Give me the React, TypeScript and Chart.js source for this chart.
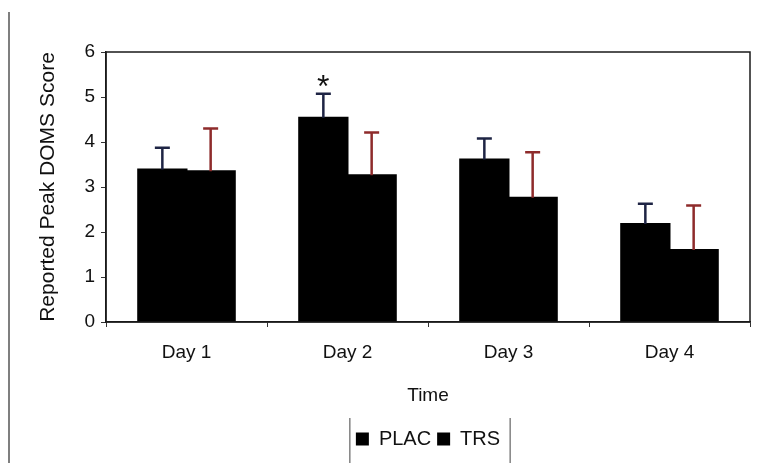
import React, { useEffect, useRef } from "react";
import { Chart, registerables } from "chart.js";

Chart.register(...registerables);

const categories = ["Day 1", "Day 2", "Day 3", "Day 4"];
const placMeans = [3.39, 4.54, 3.61, 2.18];
const placErrors = [0.48, 0.53, 0.47, 0.45];
const trsMeans = [3.35, 3.26, 2.76, 1.6];
const trsErrors = [0.95, 0.95, 1.01, 0.99];
const placMarks = ["", "*", "", ""];
const yTicks = [0, 1, 2, 3, 4, 5, 6];

const FONT = "'Liberation Sans', Arial, sans-serif";

const errorPlugin = {
  id: "errorBarsEtc",
  afterLayout(chart: any) {
    const lg = chart.legend;
    const a = chart.chartArea;
    if (lg && a) {
      const dx = (a.left + a.right) / 2 - (lg.left + lg.right) / 2;
      lg.left += dx;
      lg.right += dx;
    }
  },
  afterDatasetsDraw(chart: any) {
    const ctx = chart.ctx;
    const yScale = chart.scales.y;
    const errs = [placErrors, trsErrors];
    const colors = ["#1e2444", "#8e2b2b"];
    chart.data.datasets.forEach((ds: any, di: number) => {
      const meta = chart.getDatasetMeta(di);
      meta.data.forEach((bar: any, i: number) => {
        const v = ds.data[i];
        const top = yScale.getPixelForValue(v + errs[di][i]);
        ctx.save();
        ctx.strokeStyle = colors[di];
        ctx.lineWidth = 2.5;
        ctx.beginPath();
        ctx.moveTo(bar.x, bar.y);
        ctx.lineTo(bar.x, top);
        ctx.moveTo(bar.x - 7.5, top);
        ctx.lineTo(bar.x + 7.5, top);
        ctx.stroke();
        if (di === 0 && placMarks[i]) {
          ctx.fillStyle = "#111";
          ctx.font = `32px ${FONT}`;
          ctx.textAlign = "center";
          ctx.textBaseline = "alphabetic";
          ctx.fillText(placMarks[i], bar.x, top + 3);
        }
        ctx.restore();
      });
    });
    const a = chart.chartArea;
    ctx.save();
    ctx.strokeStyle = "#1a1a1a";
    ctx.lineWidth = 1.5;
    ctx.strokeRect(a.left, a.top, a.right - a.left, a.bottom - a.top);
    ctx.restore();
  },
  afterDraw(chart: any) {
    const ctx = chart.ctx;
    ctx.save();
    ctx.strokeStyle = "#555";
    ctx.lineWidth = 1.5;
    ctx.beginPath();
    ctx.moveTo(9, 12);
    ctx.lineTo(9, 463);
    ctx.stroke();
    const boxes = chart.legend && chart.legend.legendHitBoxes;
    if (boxes && boxes.length) {
      const l = boxes[0].left - 6;
      const last = boxes[boxes.length - 1];
      const r = last.left + last.width + 10;
      ctx.strokeStyle = "#444";
      ctx.lineWidth = 1;
      ctx.beginPath();
      ctx.moveTo(l, 418);
      ctx.lineTo(l, 463);
      ctx.moveTo(r, 418);
      ctx.lineTo(r, 463);
      ctx.stroke();
    }
    ctx.restore();
  },
};

export default function App() {
  const ref = useRef<HTMLCanvasElement | null>(null);
  useEffect(() => {
    if (!ref.current) return;
    const chart = new Chart(ref.current, {
      type: "bar",
      data: {
        labels: categories,
        datasets: [
          {
            label: "PLAC",
            data: placMeans,
            backgroundColor: "#000",
            borderWidth: 0,
            inflateAmount: 1,
            categoryPercentage: 0.6,
            barPercentage: 1.0,
          },
          {
            label: "TRS",
            data: trsMeans,
            backgroundColor: "#000",
            borderWidth: 0,
            inflateAmount: 1,
            categoryPercentage: 0.6,
            barPercentage: 1.0,
          },
        ],
      },
      options: {
        responsive: false,
        animation: false,
        layout: { padding: { left: 36, right: 9, top: 52, bottom: 4 } },
        plugins: {
          tooltip: { enabled: false },
          legend: {
            position: "bottom",
            labels: {
              color: "#111",
              font: { family: FONT, size: 20 },
              boxWidth: 13,
              boxHeight: 13,
              padding: 6,
            },
          },
        },
        scales: {
          x: {
            grid: {
              display: true,
              drawOnChartArea: false,
              tickLength: 5,
              color: "#333",
              offset: true,
            },
            border: { color: "#1a1a1a", width: 1.5 },
            ticks: {
              color: "#111",
              font: { family: FONT, size: 19 },
              padding: 14,
            },
            title: {
              display: true,
              text: "Time",
              color: "#111",
              font: { family: FONT, size: 19 },
              padding: { top: 16, bottom: 16 },
            },
            afterFit: (s: any) => {
              s.height = 101;
            },
          },
          y: {
            min: 0,
            max: 6,
            afterBuildTicks: (s: any) => {
              s.ticks = yTicks.map((v) => ({ value: v }));
            },
            grid: {
              display: true,
              drawOnChartArea: false,
              tickLength: 5,
              color: "#333",
            },
            border: { color: "#1a1a1a", width: 1.5 },
            ticks: {
              color: "#111",
              font: { family: FONT, size: 19 },
              padding: 6,
            },
            title: {
              display: true,
              text: "Reported Peak DOMS Score",
              color: "#111",
              font: { family: FONT, size: 21 },
              padding: { top: 0, bottom: 0 },
            },
            afterFit: (s: any) => {
              s.width = 70;
            },
          },
        },
      },
      plugins: [errorPlugin],
    });
    return () => chart.destroy();
  }, []);
  return (
    <div style={{ position: "absolute", left: 0, top: 0, width: 759, height: 463, background: "#fff" }}>
      <canvas ref={ref} width={759} height={463} />
    </div>
  );
}
